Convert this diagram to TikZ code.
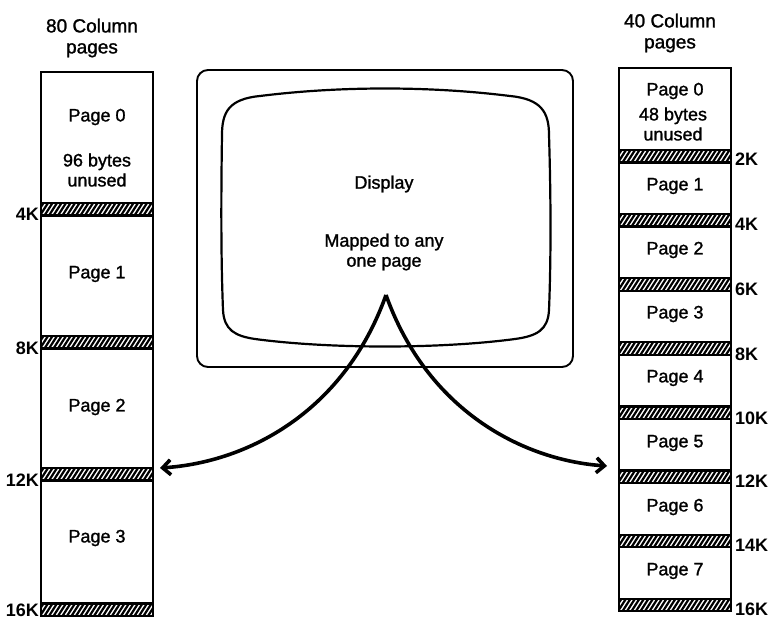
\documentclass[tikz,border=0pt]{standalone}
\usepackage{fontspec}
\setmainfont{Liberation Sans}
\newfontfamily\heavyfont{Liberation Sans}[FakeBold=1.3]
\newfontfamily\kfont{Liberation Sans Bold}
\usetikzlibrary{arrows.meta}
\tikzset{
  colbox/.style={draw=black, line width=2.4pt},
  bandline/.style={line width=2.2pt},
  hatchline/.style={line width=2.2pt},
  lbl/.style={inner sep=0pt, font=\heavyfont\fontsize{18}{20}\selectfont, align=center},
  hdr/.style={inner sep=0pt, font=\heavyfont\fontsize{19}{21}\selectfont, align=center},
  klbl/.style={inner sep=0pt, font=\kfont\fontsize{18}{20}\selectfont},
  screen/.style={line width=2.2pt, line join=round},
  bezel/.style={line width=1.9pt, rounded corners=11pt},
  maparrow/.style={line width=3.6pt, -{Straight Barb[length=8pt,width=15pt]}}
}
\newcommand\hband[3]{%
  \begin{scope}
    \clip (#1,#3) rectangle (#2,{#3+12.5});
    \foreach \xx in {-10,-5.5,...,120}
      \draw[hatchline] ({#1+\xx},{#3+12.5}) -- ({#1+\xx+8},{#3});
  \end{scope}
  \draw[bandline] (#1,#3) -- (#2,#3);
  \draw[bandline] (#1,{#3+12.5}) -- (#2,{#3+12.5});
}
\begin{document}
\begin{tikzpicture}[x=1pt,y=-1pt]
\useasboundingbox (0,0) rectangle (784,628);
\fill[white] (0,0) rectangle (784,628);

% ---------- left column (80 column pages)
\node[hdr] (hL) at (92,38) {80 Column\\pages};
\draw[colbox] (41,72) rectangle (153,616);
\hband{41}{153}{203}
\hband{41}{153}{336}
\hband{41}{153}{468}
\hband{41}{153}{603.5}
\node[lbl] (L0a) at (97,117) {Page 0};
\node[lbl] (L0b) at (97,170) {96 bytes\\unused};
\node[lbl] (L1) at (97,274) {Page 1};
\node[lbl] (L2) at (97,407) {Page 2};
\node[lbl] (L3) at (97,538) {Page 3};
\node[klbl, anchor=east] (k4L) at (39,214) {4K};
\node[klbl, anchor=east] (k8L) at (39,348) {8K};
\node[klbl, anchor=east] (k12L) at (39,480) {12K};
\node[klbl, anchor=east] (k16L) at (39,610) {16K};

% ---------- right column (40 column pages)
\node[hdr] (hR) at (670,33) {40 Column\\pages};
\draw[colbox] (619,68) rectangle (731,611.2);
\foreach \t in {150,214.1,278.2,342.3,406.4,470.5,534.6,598.7}
  {\hband{619}{731}{\t}}
\node[lbl] (R0a) at (675,91) {Page 0};
\node[lbl] (R0b) at (673,124) {48 bytes\\unused};
\node[lbl] (R1) at (675,186) {Page 1};
\node[lbl] (R2) at (675,250) {Page 2};
\node[lbl] (R3) at (675,314) {Page 3};
\node[lbl] (R4) at (675,378) {Page 4};
\node[lbl] (R5) at (675,443) {Page 5};
\node[lbl] (R6) at (675,507) {Page 6};
\node[lbl] (R7) at (675,571) {Page 7};
\node[klbl, anchor=west] (k2R) at (735,159) {2K};
\node[klbl, anchor=west] (k4R) at (735,224) {4K};
\node[klbl, anchor=west] (k6R) at (735,289) {6K};
\node[klbl, anchor=west] (k8R) at (735,354) {8K};
\node[klbl, anchor=west] (k10R) at (735,418) {10K};
\node[klbl, anchor=west] (k12R) at (735,481) {12K};
\node[klbl, anchor=west] (k14R) at (735,545) {14K};
\node[klbl, anchor=west] (k16R) at (735,609) {16K};

% ---------- display
\draw[bezel] (197,70) rectangle (573,367);
\draw[screen] (260,96) .. controls (340,86) and (430,86) .. (510,96)
  .. controls (541,99) and (549,112) .. (549,135)
  .. controls (551,200) and (551,260) .. (549,310)
  .. controls (548,330) and (537,336) .. (515,339)
  .. controls (440,349) and (330,349) .. (255,339)
  .. controls (235,336) and (224,330) .. (223,310)
  .. controls (221,260) and (221,200) .. (222,135)
  .. controls (222,112) and (229,99) .. (260,96) -- cycle;
\node[lbl] (disp) at (384,184) {Display};
\node[lbl] (map) at (384,252) {Mapped to any\\one page};

% ---------- mapping arrows
\coordinate (apex) at (386,295);
\coordinate (tipL) at (160,468);
\coordinate (tipR) at (607,466);
\draw[maparrow] (apex) .. controls (345,410) and (250,462) .. (tipL);
\draw[maparrow] (apex) .. controls (427,410) and (522,460) .. (tipR);
\end{tikzpicture}
\end{document}
